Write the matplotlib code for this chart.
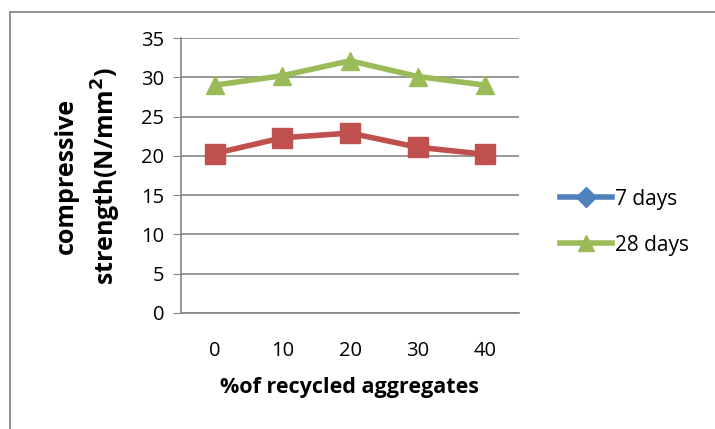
import numpy as np
import matplotlib.pyplot as plt
from matplotlib.lines import Line2D
from matplotlib.patches import Rectangle

plt.rcParams['font.family'] = ['Open Sans', 'DejaVu Sans']

# compressive strength (N/mm2) against % of recycled aggregates
pct = ['0', '10', '20', '30', '40']
days_7 = [20.3, 22.3, 22.9, 21.1, 20.2]
days_28 = [29.0, 30.2, 32.1, 30.1, 29.0]

fig = plt.figure(figsize=(7.15, 4.29), dpi=100)
ax = fig.add_axes([181/715, 1 - 313/429, (519 - 181)/715, (313 - 38)/429])

# outer chart border
fig.patches.append(Rectangle((10/715, -0.05), 1.0, 1 - 12/429 + 0.05,
                             transform=fig.transFigure, fill=False,
                             edgecolor='#7f7f7f', linewidth=1.2))

x = np.arange(len(pct))
ax.plot(x, days_7, color='#C0504D', linewidth=4.0, marker='s',
        markersize=14, zorder=3)
ax.plot(x, days_28, color='#9BBB59', linewidth=4.0, marker='^',
        markersize=13, zorder=3)

ax.set_xlim(-0.5, 4.5)
ax.set_ylim(0, 35)
ax.set_yticks(range(0, 36, 5))
ax.set_xticks(x)
ax.set_xticklabels(pct)
ax.grid(axis='y', color='#868686', linewidth=1.2)
ax.set_axisbelow(True)
for s in ['top', 'right']:
    ax.spines[s].set_visible(False)
ax.spines['left'].set_color('#868686')
ax.spines['bottom'].set_color('#868686')
ax.spines['left'].set_linewidth(1.2)
ax.spines['bottom'].set_linewidth(1.2)
ax.tick_params(axis='y', length=6, color='#868686', labelsize=14.5, pad=6)
ax.tick_params(axis='x', length=0, labelsize=14.5, pad=20)

ax.set_xlabel('%of recycled aggregates', fontsize=15.5, fontweight='bold',
              labelpad=12)
fig.text(66/715, 1 - 176/429, 'compressive', rotation=90, fontsize=18,
         fontweight='bold', ha='center', va='center')
fig.text(106/715, 1 - 176/429, 'strength(N/mm$^\\mathbf{2}$)', rotation=90,
         fontsize=18, fontweight='bold', ha='center', va='center')

handles = [
    Line2D([], [], color='#4F81BD', linewidth=4.0, marker='D', markersize=10),
    Line2D([], [], color='#9BBB59', linewidth=4.0, marker='^', markersize=12),
]
fig.legend(handles, ['7 days', '28 days'], loc='center left',
           bbox_to_anchor=(541/715, 1 - 222/429), frameon=False,
           fontsize=15, handlelength=2.5, handletextpad=0.15, labelspacing=1.2)

fig.savefig('out.png', dpi=100)
